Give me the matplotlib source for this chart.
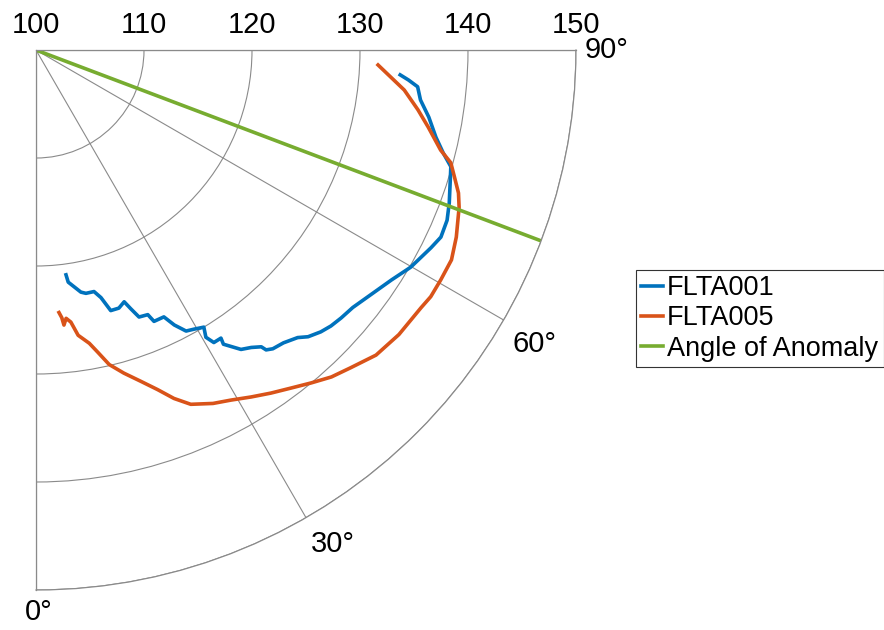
import numpy as np
import matplotlib
matplotlib.use('Agg')
import matplotlib.pyplot as plt

plt.rcParams['font.family'] = ['Liberation Sans', 'DejaVu Sans']

# FLTA001 trace (theta in degrees, radius)
flta001_theta = [7.6, 7.9, 10.5, 11.6, 13.5, 14.7, 16.0, 17.8, 19.3, 20.1, 21.1, 22.9,
                 23.5, 25.6, 26.7, 28.1, 29.5, 31.2, 30.6, 31.3, 32.7, 32.5, 34.4, 35.9,
                 37.2, 37.5, 38.4, 40.2, 42.3, 43.5, 45.3, 46.9, 48.7, 50.9, 54.3, 57.1,
                 59.9, 63.4, 65.2, 67.5, 69.7, 72.6, 74.3, 75.8, 77.7, 80.3, 82.6, 84.5,
                 85.4, 86.1]
flta001_r = [121.0, 121.7, 122.8, 123.0, 123.0, 123.7, 125.1, 125.1, 124.7, 125.5, 126.5, 126.6,
             127.4, 127.4, 128.5, 129.5, 129.7, 130.0, 130.9, 131.7, 131.7, 132.3, 133.6, 134.0,
             134.5, 135.0, 135.3, 135.5, 136.0, 136.6, 137.1, 137.4, 137.6, 137.8, 138.5, 139.2,
             140.1, 140.9, 141.3, 141.2, 140.8, 140.2, 139.9, 138.9, 137.9, 136.9, 135.9, 135.5,
             134.6, 133.8]

# FLTA005 trace
flta005_theta = [5.0, 5.5, 5.8, 6.4, 7.3, 8.4, 10.3, 11.6, 13.1, 15.2, 17.6, 19.7,
                 21.6, 23.6, 26.6, 29.1, 31.8, 34.4, 37.0, 39.6, 42.1, 44.7, 48.1, 51.9,
                 56.2, 58.0, 60.4, 63.2, 66.0, 69.6, 71.3, 73.1, 74.8, 76.1, 78.9, 81.1,
                 83.8, 87.5]
flta005_r = [124.4, 124.9, 125.6, 125.0, 125.4, 126.7, 127.6, 128.6, 129.9, 131.0, 132.2, 133.4,
             134.7, 135.8, 136.6, 137.1, 137.8, 138.5, 139.2, 140.0, 140.8, 141.4, 142.3, 142.7,
             142.9, 143.1, 143.1, 143.1, 142.6, 141.8, 141.3, 140.5, 139.8, 138.6, 137.0, 135.8,
             134.3, 131.7]

# angle of anomaly
anomaly_theta = [69.3, 69.3]
anomaly_r = [100, 150]

r_ticks = [100, 110, 120, 130, 140, 150]
theta_ticks = [0, 30, 60, 90]

fig = plt.figure(figsize=(8.84, 6.3), dpi=100)
ax = fig.add_axes([0.0396, 0.0635, 0.6131, 0.8571], projection='polar')
ax.set_theta_zero_location('S')
ax.set_theta_direction(1)
ax.set_thetamin(0); ax.set_thetamax(90)
ax.set_rlim(100, 150)

ax.plot(np.deg2rad(flta001_theta), flta001_r, color='#0072BD', lw=2.6, label='FLTA001')
ax.plot(np.deg2rad(flta005_theta), flta005_r, color='#D95319', lw=2.6, label='FLTA005')
ax.plot(np.deg2rad(anomaly_theta), anomaly_r, color='#77AC30', lw=2.6, label='Angle of Anomaly')

GC = '#8a8a8a'
ax.set_rticks(r_ticks)
ax.set_yticklabels([])
ax.set_thetagrids(theta_ticks, [''] * len(theta_ticks))
ax.grid(True, color=GC, lw=0.8)
for s in ax.spines.values():
    s.set_color(GC); s.set_linewidth(0.9)

# radial labels along the top edge
for r in r_ticks:
    ax.annotate(str(r), xy=(np.pi/2, r), xytext=(0, 8), textcoords='offset points',
                ha='center', va='bottom', fontsize=21, annotation_clip=False)

# angle labels outside the arc (MATLAB-like placement)
theta_off = [(2, -16), (19, -19), (22, -17), (22, 0)]
for t, off in zip(theta_ticks, theta_off):
    ax.annotate('%d°' % t, xy=(np.deg2rad(t), 150), xytext=off, textcoords='offset points',
                ha='center', va='center', fontsize=21, annotation_clip=False)

leg = ax.legend(loc='upper left', bbox_to_anchor=(636/884, 1-270/630),
                bbox_transform=fig.transFigure, borderaxespad=0, fontsize=19.5,
                fancybox=False, edgecolor='#333333', framealpha=1,
                handlelength=0.8, handletextpad=0.15, labelspacing=0.15, borderpad=0.2)
leg.get_frame().set_linewidth(0.8)

fig.savefig('out.png', dpi=100)
